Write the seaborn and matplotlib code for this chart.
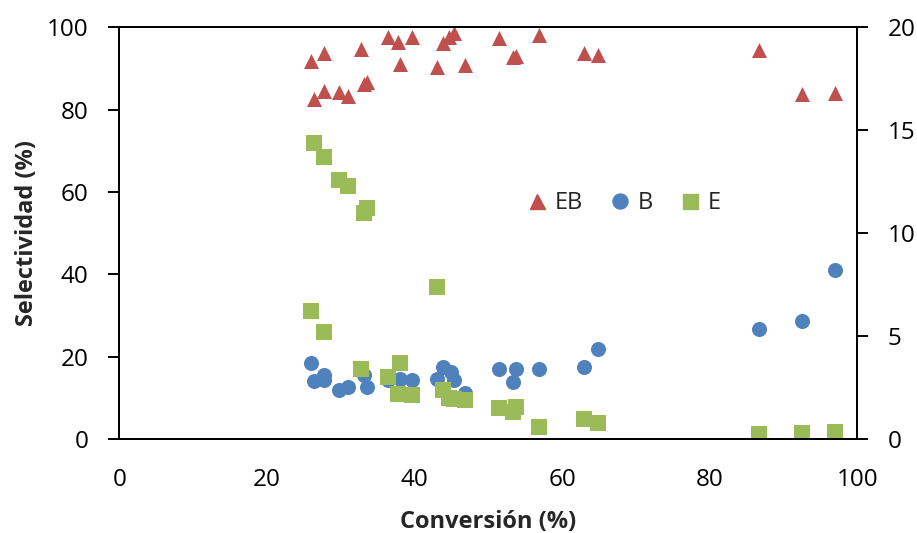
import numpy as np
import matplotlib
matplotlib.use("Agg")
import matplotlib.pyplot as plt
import seaborn as sns
import pandas as pd
from matplotlib.lines import Line2D

# EB (eje izquierdo)
conv_eb = [26.0, 27.8, 32.8, 36.4, 37.8, 39.6, 38.1, 43.8, 44.7, 45.3, 43.1, 46.9,
           51.4, 53.4, 53.8, 56.9, 63.0, 64.8, 26.4, 27.8, 29.8, 31.0, 33.1, 33.5,
           86.7, 92.5, 97.0]
sel_eb = [91.7, 93.7, 94.7, 97.6, 96.4, 97.6, 91.0, 96.1, 97.6, 98.5, 90.3, 90.8,
          97.3, 92.7, 93.0, 98.1, 93.7, 93.2, 82.5, 84.5, 84.2, 83.3, 86.2, 86.7,
          94.4, 83.7, 84.0]

# B (eje izquierdo)
conv_b = [26.0, 26.4, 27.8, 27.8, 29.8, 31.0, 33.1, 33.5, 36.4, 38.1, 39.6, 43.1,
          43.8, 44.9, 45.3, 46.9, 51.4, 53.8, 53.4, 56.9, 63.0, 64.8, 86.7, 92.5, 97.0]
sel_b = [18.4, 14.1, 15.5, 14.3, 11.9, 12.6, 15.5, 12.6, 14.3, 14.6, 14.3, 14.6,
         17.5, 16.3, 14.3, 11.2, 17.0, 17.0, 13.8, 17.0, 17.5, 21.8, 26.7, 28.6, 41.0]

# E (eje derecho)
conv_e = [26.4, 27.8, 29.8, 31.0, 33.1, 33.5, 43.1, 26.0, 27.8, 32.8, 36.4, 38.1,
          37.8, 39.6, 43.8, 44.7, 45.3, 46.9, 51.4, 53.4, 53.8, 56.9, 63.0, 64.8,
          86.7, 92.5, 97.0]
sel_e = [14.4, 13.7, 12.6, 12.3, 11.0, 11.2, 7.4, 6.2, 5.2, 3.4, 3.0, 3.7,
         2.2, 2.15, 2.4, 2.0, 1.95, 1.9, 1.5, 1.3, 1.55, 0.6, 1.0, 0.8,
         0.25, 0.3, 0.35]

df_eb = pd.DataFrame({"x": conv_eb, "y": sel_eb})
df_b = pd.DataFrame({"x": conv_b, "y": sel_b})
df_e = pd.DataFrame({"x": conv_e, "y": sel_e})

c_eb = "#C0504D"
c_b = "#4F81BD"
c_e = "#9BBB59"

sns.set_style("white")
plt.rcParams["font.family"] = ["Open Sans", "DejaVu Sans"]

fig = plt.figure(figsize=(9.17, 5.33), dpi=100)
ax = fig.add_axes([0.130, 0.176, 0.805, 0.773])
ax2 = ax.twinx()

msize = 117
sns.scatterplot(data=df_b, x="x", y="y", ax=ax, marker="o", color=c_b, s=msize, linewidth=0)
sns.scatterplot(data=df_eb, x="x", y="y", ax=ax, marker="^", color=c_eb, s=msize, linewidth=0)
sns.scatterplot(data=df_e, x="x", y="y", ax=ax2, marker="s", color=c_e, s=msize, linewidth=0)

ax.set_xlim(0, 100)
ax.set_ylim(0, 100)
ax2.set_ylim(0, 20)
ax.set_xticks(range(0, 101, 20))
ax.set_yticks(range(0, 101, 20))
ax2.set_yticks(range(0, 21, 5))

ax.set_xlabel("Conversión (%)", fontsize=17, fontweight="bold", labelpad=13)
ax.set_ylabel("Selectividad (%)", fontsize=17, fontweight="bold", labelpad=6)
ax2.set_ylabel("")

ax.tick_params(axis="x", labelsize=17.5, direction="out", length=8, width=1.4,
               colors="black", pad=13)
ax.tick_params(axis="y", labelsize=17.5, direction="out", length=8, width=1.4,
               colors="black", pad=14, left=True)
ax2.tick_params(axis="y", labelsize=17.5, direction="out", length=8, width=1.4,
                colors="black", pad=14, right=True)
for a in (ax, ax2):
    for sp in a.spines.values():
        sp.set_color("black")
        sp.set_linewidth(1.4)

handles = [
    Line2D([], [], marker="^", color=c_eb, linestyle="", markersize=10.8),
    Line2D([], [], marker="o", color=c_b, linestyle="", markersize=10.8),
    Line2D([], [], marker="s", color=c_e, linestyle="", markersize=10.8),
]
leg = ax2.legend(handles, ["EB", "B", "E"], ncol=3, frameon=False, fontsize=17,
                 loc="center left", bbox_to_anchor=(0.550, 0.573), borderpad=0,
                 borderaxespad=0, handlelength=1.0, handletextpad=0.26,
                 columnspacing=1.06)

fig.savefig("out.png", dpi=100)
